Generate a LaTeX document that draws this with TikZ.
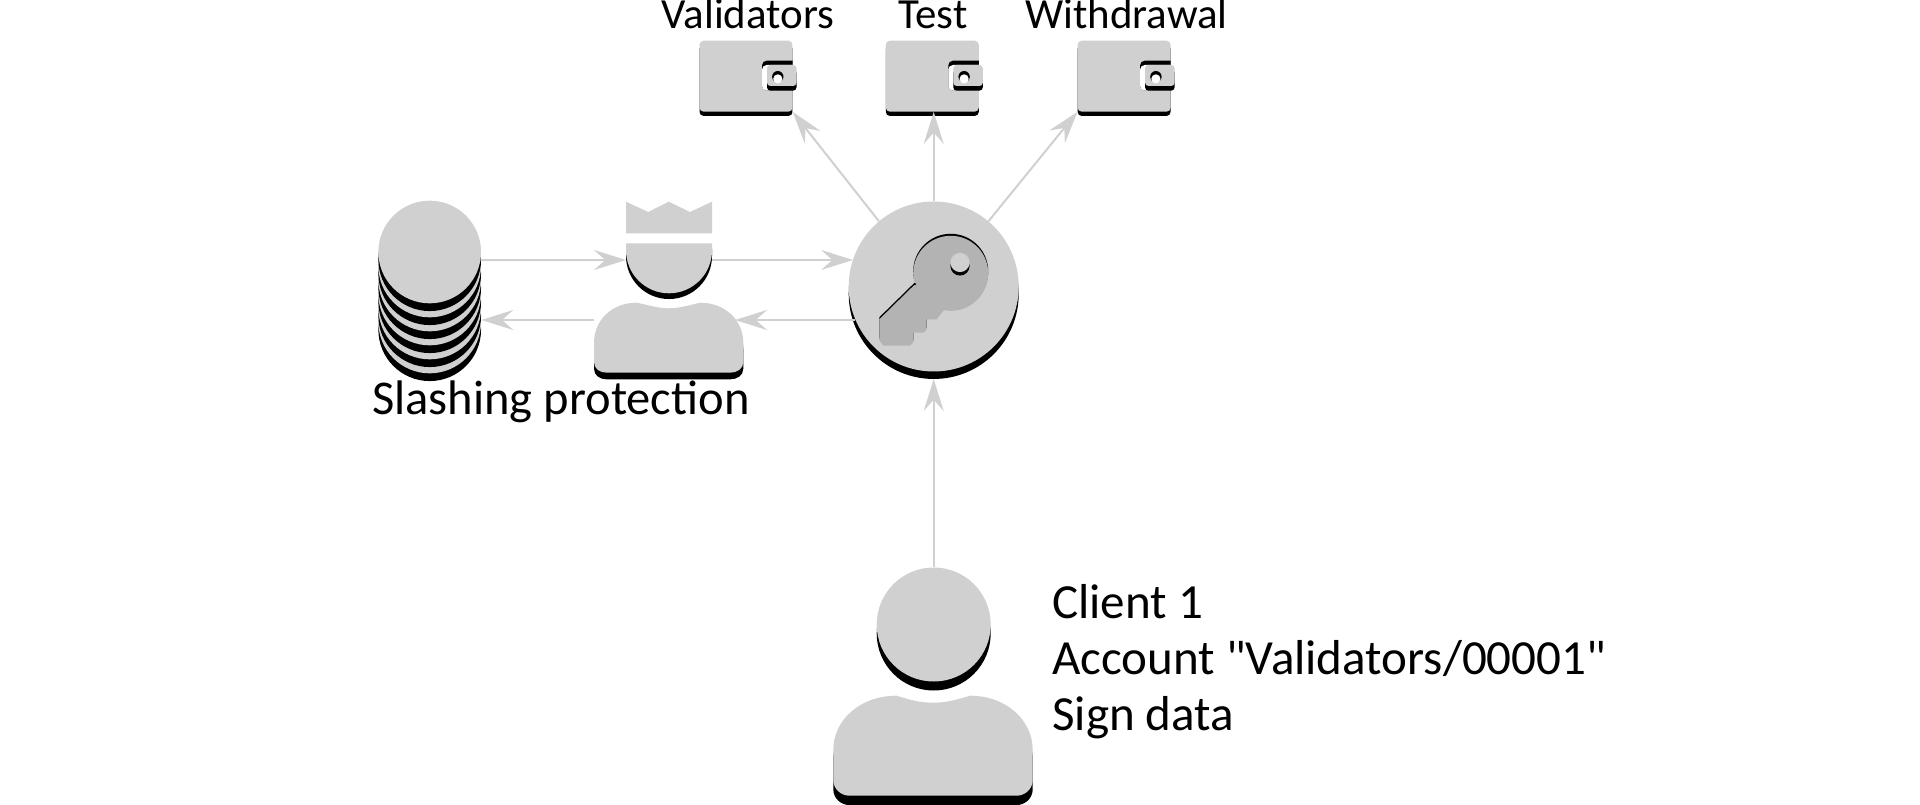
\documentclass[tikz,border=0pt]{standalone}
\usepackage{fontspec}
\setmainfont{Carlito}[Ligatures=TeXOff]
\usetikzlibrary{arrows.meta,shadows}
\definecolor{iconfill}{HTML}{D0D0D0}
\definecolor{keyfill}{HTML}{B3B3B3}

\begin{document}
\begin{tikzpicture}[
        x=0.75pt, y=-0.75pt,
        solid/.style={general shadow={fill=black, shadow xshift=0pt, shadow yshift=-#1}},
        icon/.style={fill=iconfill},
        disc/.style={circle, fill=iconfill, inner sep=0pt, minimum size=#1},
        link/.style={draw=iconfill, line width=1.5pt, -{Stealth[length=24pt, width=15pt, inset=8.5pt]}},
        caption/.style={font=\fontsize{36.6}{42.2}\selectfont, inner sep=0pt},
        smallcaption/.style={font=\fontsize{32.2}{38}\selectfont, inner sep=0pt, anchor=base},
        walletbody/.style={icon, rounded corners=3pt, inner sep=0pt, minimum width=69.7pt, minimum height=53.2pt, solid=3.2pt},
        walletpic/.pic={
            \node[walletbody] (body) at (46.5,35.5) {};
            \fill[black] (93,20) [rounded corners=3.5pt] -- (62.5,20) -- (62.5,50) [sharp corners] -- (93,50) -- cycle;
            \fill[white] (93,24.3) [rounded corners=3.5pt] -- (62.5,24.3) -- (62.5,50) [sharp corners] -- (93,50) -- cycle;
            \fill[icon, rounded corners=2.5pt, solid=3.5pt] (67.5,24.3) rectangle (97,45.3);
            \fill[black] (78.3,36) circle[radius=5.7];
            \fill[white] (78.3,38.2) circle[radius=4.6];
        }
    ]
    \useasboundingbox (0,0) rectangle (1920,805);

    % wallets
    \pic (validators) at (699.5,40.7) {walletpic};
    \pic (test) at (885.8,40.7) {walletpic};
    \pic (withdrawal) at (1077.6,40.7) {walletpic};
    \node[smallcaption] (validatorslabel) at (748,29) {Validators};
    \node[smallcaption] (testlabel) at (933,29) {Test};
    \node[smallcaption] (withdrawallabel) at (1126.5,29) {Withdrawal};

    % account manager with key
    \node[disc=127.5pt, solid=5.6pt] (hub) at (933.7,286.5) {};
    \coordinate (hubbase) at (933.7,379);
    \fill[keyfill, solid=-1.5pt] (950.7,273.3) circle[radius=37.5];
    \fill[keyfill, solid=-1.5pt] (914.3,285) -- (879.3,319.3) -- (879.3,340) -- (883.3,345.7) -- (910,345.7)
        -- (913.3,342.3) -- (913.3,332.7) -- (923.3,332.7) -- (926.7,329.3) -- (926.7,319.3)
        -- (936.7,319.3) -- (943.3,311) -- (950,290) -- cycle;
    \fill[keyfill] (950.7,273.3) circle[radius=36.5];
    \node[disc=14.4pt, solid=2.6pt] (keyhole) at (960,262.5) {};

    % slashing protection
    \node[disc=77pt, solid=5.8pt] (db6) at (429.7,322) {};
    \node[disc=77pt, solid=5.8pt] (db5) at (429.7,308) {};
    \node[disc=77pt, solid=5.8pt] (db4) at (429.7,294) {};
    \node[disc=77pt, solid=5.8pt] (db3) at (429.7,280) {};
    \node[disc=77pt, solid=5.8pt] (db2) at (429.7,266) {};
    \node[disc=77pt, solid=5.8pt] (db1) at (429.7,252) {};
    \node[caption, anchor=base west, font=\fontsize{36.4}{42.2}\selectfont] (slashinglabel) at (372,415) {Slashing protection};

    % signer with crown
    \fill[icon] (626,233.3) -- (626,201.7) -- (648.3,212) -- (668.7,201.7) -- (690,212) -- (712,201.7) -- (712,233.3) -- cycle;
    \fill[icon, solid=4.3pt] (626,243.3) -- (712,243.3) -- (712,250.3) arc[start angle=0, end angle=180, radius=43] -- cycle;
    \fill[icon, solid=5pt] (594,343) .. controls (594,320) and (612,302.7) .. (636.7,302.7)
        .. controls (648,305) and (658,308.3) .. (668.7,308.3)
        .. controls (680,308.3) and (690,305) .. (700,302.7)
        .. controls (725,302.7) and (743.3,320) .. (743.3,343) -- (743.3,362)
        .. controls (743.3,369) and (737,372.7) .. (730,372.7) -- (607,372.7)
        .. controls (600,372.7) and (594,369) .. (594,362) -- cycle;
    \coordinate (signerwest) at (626,260);
    \coordinate (signereast) at (712,260);
    \coordinate (signerbodywest) at (594,320);
    \coordinate (signerbodyeast) at (735,320);

    % client
    \node[disc=85.5pt, solid=6.75pt] (clienthead) at (933.7,624.5) {};
    \fill[icon, solid=7pt] (833.3,750) .. controls (833.3,720) and (860,695.7) .. (896.7,695.7)
        .. controls (910,700) and (920,702.7) .. (933,702.7)
        .. controls (946,702.7) and (956,700) .. (970,695.7)
        .. controls (1006,695.7) and (1032.7,720) .. (1032.7,750) -- (1032.7,780)
        .. controls (1032.7,789) and (1025,795.7) .. (1016.7,795.7) -- (849.3,795.7)
        .. controls (841,795.7) and (833.3,789) .. (833.3,780) -- cycle;
    \node[caption, anchor=base west, align=left, font=\fontsize{36.8}{42.2}\selectfont] (clientlabel) at (1052,730.6) {Client 1\\Account "Validators/00001"\\Sign data};

    \draw[link] (hub.130) -- (validatorsbody.south east);
    \draw[link] (hub.north) -- (hub.north |- testbody.south);
    \draw[link] (hub.50) -- (withdrawalbody.south west);
    \draw[link] (db1.-9) -- (signerwest);
    \draw[link] (signereast) -- (signereast -| hub.161.5);
    \draw[link] (signerbodyeast -| hub.202.8) -- (signerbodyeast);
    \draw[link] (signerbodywest) -- (signerbodywest -| db6.east);
    \draw[link] (clienthead.north) -- (hubbase);
\end{tikzpicture}
\end{document}
